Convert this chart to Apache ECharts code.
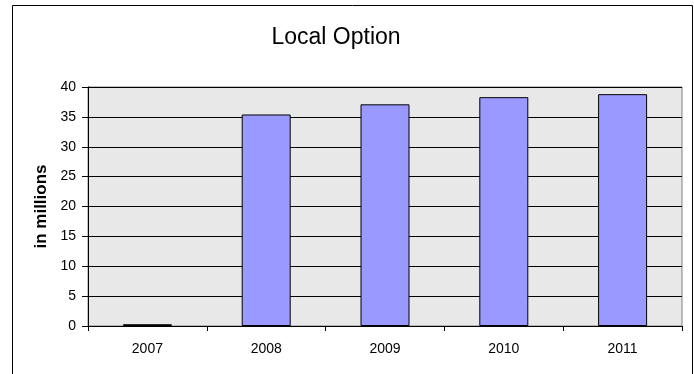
<!DOCTYPE html>
<html>
<head>
<meta charset="utf-8">
<script src="https://cdn.jsdelivr.net/npm/echarts@6/dist/echarts.min.js"></script>
<style>
  html, body { margin: 0; padding: 0; background: #fff; }
  #chart { width: 694px; height: 374px; }
</style>
</head>
<body>
<div id="chart"></div>
<script>
// Local option revenue by year (in millions)
const years = ['2007', '2008', '2009', '2010', '2011'];
const revenue = [0.3, 35.4, 37.1, 38.3, 38.8];
const yTicks = { min: 0, max: 40, interval: 5 };

const chart = echarts.init(document.getElementById('chart'), null, { renderer: 'canvas' });

chart.setOption({
  animation: false,
  backgroundColor: '#ffffff',
  textStyle: { fontFamily: '"Liberation Sans", Arial, sans-serif' },
  title: {
    text: 'Local Option',
    left: 331,
    top: 21,
    textAlign: 'center',
    textStyle: {
      fontFamily: '"Liberation Sans", Arial, sans-serif',
      fontSize: 23,
      fontWeight: 'normal',
      color: '#000'
    }
  },
  graphic: [{
    type: 'rect',
    z: -10,
    shape: { x: 12.5, y: 5.5, width: 680, height: 420 },
    style: { fill: 'none', stroke: '#000', lineWidth: 1 }
  }],
  grid: {
    left: 88,
    right: 12,
    top: 87,
    bottom: 48,
    show: true,
    backgroundColor: '#e8e8e8',
    borderColor: '#808080',
    borderWidth: 1
  },
  xAxis: {
    type: 'category',
    data: years,
    boundaryGap: true,
    axisLine: { show: true, lineStyle: { color: '#000', width: 1 } },
    axisTick: { show: true, inside: false, length: 5, alignWithLabel: false, lineStyle: { color: '#000' } },
    axisLabel: { color: '#000', fontSize: 14, margin: 16 },
    splitLine: { show: false }
  },
  yAxis: {
    type: 'value',
    min: yTicks.min,
    max: yTicks.max,
    interval: yTicks.interval,
    name: 'in millions',
    nameLocation: 'middle',
    nameGap: 38,
    nameTextStyle: { color: '#000', fontSize: 17, fontWeight: 'bold' },
    axisLine: { show: true, lineStyle: { color: '#000', width: 1 } },
    axisTick: { show: true, inside: false, length: 6, lineStyle: { color: '#000' } },
    axisLabel: { color: '#000', fontSize: 14, margin: 12 },
    splitLine: { show: true, lineStyle: { color: '#000', width: 1 } }
  },
  series: [{
    type: 'bar',
    data: revenue,
    barWidth: 49,
    itemStyle: { color: '#9999ff', borderColor: '#000', borderWidth: 1 }
  }]
});
</script>
</body>
</html>
